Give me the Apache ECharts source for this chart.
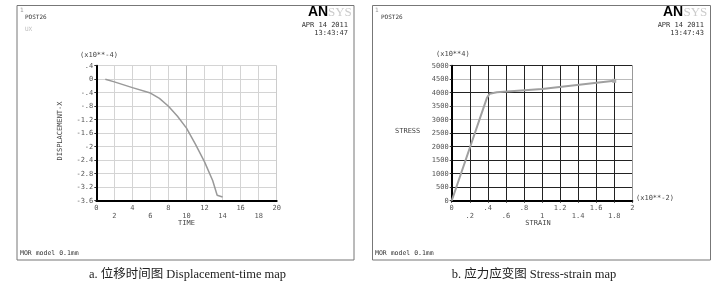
<!DOCTYPE html>
<html>
<head>
<meta charset="utf-8">
<script src="https://cdn.jsdelivr.net/npm/echarts@6/dist/echarts.min.js"></script>
<style>
  html, body { margin: 0; padding: 0; background: #fff; }
  #chart { width: 720px; height: 289px; }
</style>
</head>
<body>
<div id="chart"></div>
<script>
// panel a: displacement vs time
var timeVals = [1, 2, 4, 6, 7, 8, 9, 10, 11, 12, 12.9, 13.4, 14];
var dispVals = [0, -0.08, -0.25, -0.41, -0.57, -0.80, -1.10, -1.45, -1.93, -2.45, -3.0, -3.44, -3.49];
var timeTicks = ['0', '2', '4', '6', '8', '10', '12', '14', '16', '18', '20'];
var dispTicks = ['-3.6', '-3.2', '-2.8', '-2.4', '-2', '-1.6', '-1.2', '-.8', '-.4', '0', '.4'];

// panel b: stress vs strain
var strainVals = [0, 0.39, 0.42, 0.5, 1.0, 1.8];
var stressVals = [0, 3810, 3960, 4020, 4140, 4440];
var strainTicks = ['0', '.2', '.4', '.6', '.8', '1', '1.2', '1.4', '1.6', '1.8', '2'];
var stressTicks = ['0', '500', '1000', '1500', '2000', '2500', '3000', '3500', '4000', '4500', '5000'];

var mono = '"DejaVu Sans Mono", monospace';
var labelStyle = { color: '#555', fontSize: 7, fontFamily: mono };

function txt(x, y, text, opts) {
    opts = opts || {};
    return {
        type: 'text', x: x, y: y, rotation: opts.rotation || 0, silent: true,
        style: {
            text: text,
            fill: opts.fill || '#333',
            fontSize: opts.size || 7,
            fontFamily: opts.family || mono,
            fontWeight: opts.weight || 'normal',
            align: opts.align || 'left',
            verticalAlign: 'middle'
        }
    };
}

function staggered(ticks, step) {
    return function (v) {
        var i = Math.round(v / step);
        return i % 2 ? '\n' + ticks[i] : ticks[i];
    };
}

var chart = echarts.init(document.getElementById('chart'));
chart.setOption({
    animation: false,
    backgroundColor: '#fff',
    grid: [
        { left: 96.3, top: 65.7, width: 180.4, height: 135 },
        { left: 451.7, top: 65.7, width: 180.6, height: 135 }
    ],
    xAxis: [
        {
            gridIndex: 0, type: 'value', min: 0, max: 20, interval: 2,
            axisLine: { onZero: false, lineStyle: { color: '#000', width: 2 } },
            axisTick: { show: false },
            axisLabel: Object.assign({ margin: 3, lineHeight: 8, formatter: staggered(timeTicks, 2) }, labelStyle),
            splitLine: { lineStyle: { color: ['#d4d4d4', '#d4d4d4', '#d4d4d4', '#d4d4d4', '#d4d4d4', '#bdbdbd', '#d4d4d4', '#d4d4d4', '#d4d4d4', '#d4d4d4', '#ccc'], width: 1 } }
        },
        {
            gridIndex: 1, type: 'value', min: 0, max: 2, interval: 0.2,
            axisLine: { onZero: false, lineStyle: { color: '#000', width: 2 } },
            axisTick: { show: true, length: 2, lineStyle: { color: '#222' } },
            axisLabel: Object.assign({ margin: 3, lineHeight: 8, formatter: staggered(strainTicks, 0.2) }, labelStyle),
            splitLine: { lineStyle: { color: ['#222', '#222', '#222', '#222', '#222', '#222', '#222', '#222', '#222', '#222', '#999'], width: 1 } }
        }
    ],
    yAxis: [
        {
            gridIndex: 0, type: 'value', min: -3.6, max: 0.4, interval: 0.4,
            axisLine: { show: true, onZero: false, lineStyle: { color: '#000', width: 2 } },
            axisTick: { show: true, length: 2, lineStyle: { color: '#333' } },
            axisLabel: Object.assign({ margin: 3, formatter: function (v) {
                return dispTicks[Math.round((v + 3.6) / 0.4)];
            } }, labelStyle),
            splitLine: { lineStyle: { color: '#d4d4d4', width: 1 } }
        },
        {
            gridIndex: 1, type: 'value', min: 0, max: 5000, interval: 500,
            axisLine: { show: true, onZero: false, lineStyle: { color: '#000', width: 2 } },
            axisTick: { show: true, length: 2, lineStyle: { color: '#333' } },
            axisLabel: Object.assign({ margin: 3, formatter: function (v) {
                return stressTicks[Math.round(v / 500)];
            } }, labelStyle),
            splitLine: { lineStyle: { color: ['#222', '#222', '#222', '#222', '#222', '#222', '#bbb', '#bbb', '#222', '#bbb', '#222'], width: 1 } }
        }
    ],
    series: [
        {
            type: 'line', xAxisIndex: 0, yAxisIndex: 0, showSymbol: false, smooth: false,
            lineStyle: { color: '#999', width: 1.5 },
            data: timeVals.map(function (t, i) { return [t, dispVals[i]]; })
        },
        {
            type: 'line', xAxisIndex: 1, yAxisIndex: 1, smooth: false,
            symbol: 'none',
            lineStyle: { color: '#a0a0a0', width: 2 },
            data: strainVals.map(function (s, i) {
                var item = { value: [s, stressVals[i]] };
                if (i === strainVals.length - 1) {
                    item.symbol = 'rect';
                    item.symbolSize = 4;
                    item.itemStyle = { color: '#aaa' };
                }
                return item;
            })
        }
    ],
    graphic: [
        // panel frames
        { type: 'rect', shape: { x: 17, y: 5.5, width: 337, height: 254.5 }, style: { fill: 'none', stroke: '#777', lineWidth: 1 }, silent: true },
        { type: 'rect', shape: { x: 372.5, y: 5.5, width: 338, height: 254.5 }, style: { fill: 'none', stroke: '#777', lineWidth: 1 }, silent: true },

        // panel a texts
        txt(20, 10, '1', { fill: '#999', size: 6 }),
        txt(25, 17, 'POST26', { fill: '#333', size: 6 }),
        txt(25, 29, 'UX', { fill: '#bbb', size: 6 }),
        txt(308, 12.5, 'AN', { fill: '#000', size: 14, family: 'Liberation Sans', weight: 'bold' }),
        txt(328, 12.5, 'SYS', { fill: '#ccc', size: 13, family: 'Liberation Serif' }),
        txt(348, 25, 'APR 14 2011', { align: 'right' }),
        txt(348, 33, '13:43:47', { align: 'right' }),
        txt(80, 55, '(x10**-4)', { fill: '#444' }),
        txt(60, 131, 'DISPLACEMENT-X', { rotation: Math.PI / 2, align: 'center', fill: '#444' }),
        txt(186.5, 223, 'TIME', { align: 'center', fill: '#444' }),
        txt(20, 253, 'MOR model 0.1mm', { fill: '#333', size: 6.5 }),
        txt(187.5, 275, 'a. 位移时间图 Displacement-time map', { fill: '#222', size: 12.5, family: '"Liberation Serif", "Noto Sans CJK SC"', align: 'center' }),

        // panel b texts
        txt(375, 10, '1', { fill: '#999', size: 6 }),
        txt(381, 17, 'POST26', { fill: '#333', size: 6 }),
        txt(663, 12.5, 'AN', { fill: '#000', size: 14, family: 'Liberation Sans', weight: 'bold' }),
        txt(683.5, 12.5, 'SYS', { fill: '#ccc', size: 13, family: 'Liberation Serif' }),
        txt(704, 25, 'APR 14 2011', { align: 'right' }),
        txt(704, 33, '13:47:43', { align: 'right' }),
        txt(436, 54.5, '(x10**4)', { fill: '#444' }),
        txt(395, 131, 'STRESS', { fill: '#444' }),
        txt(636, 198, '(x10**-2)', { fill: '#444' }),
        txt(538, 223, 'STRAIN', { align: 'center', fill: '#444' }),
        txt(375, 253, 'MOR model 0.1mm', { fill: '#333', size: 6.5 }),
        txt(534, 275, 'b. 应力应变图 Stress-strain map', { fill: '#222', size: 12.5, family: '"Liberation Serif", "Noto Sans CJK SC"', align: 'center' })
    ]
});
</script>
</body>
</html>
